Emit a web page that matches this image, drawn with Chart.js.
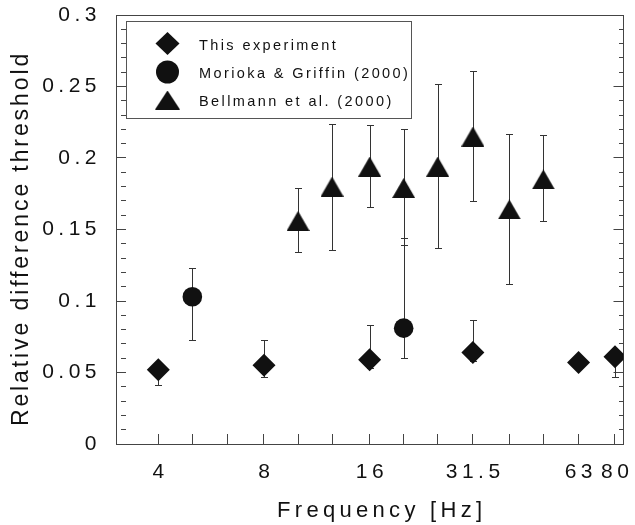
<!DOCTYPE html>
<html>
<head>
<meta charset="utf-8">
<script src="https://cdn.jsdelivr.net/npm/chart.js@4.4.1/dist/chart.umd.min.js"></script>
<style>
  html, body { margin: 0; padding: 0; background: #fff; }
</style>
</head>
<body>
<canvas id="chart" width="635" height="525"></canvas>
<script>
// --- Daten ---
var expFreq  = [4, 8, 16, 31.5, 63, 80];
var expValue = [0.052, 0.055, 0.059, 0.064, 0.057, 0.061];
var expLow   = [0.041, 0.047, 0.053, 0.058, null, 0.047];
var expHigh  = [0.057, 0.073, 0.083, 0.087, null, 0.064];

var morFreq  = [5, 20];
var morValue = [0.103, 0.081];
var morLow   = [0.073, 0.060];
var morHigh  = [0.123, 0.144];

var belFreq  = [10, 12.5, 16, 20, 25, 31.5, 40, 50];
var belValue = [0.156, 0.180, 0.194, 0.179, 0.194, 0.215, 0.164, 0.185];
var belLow   = [0.134, 0.136, 0.166, 0.139, 0.137, 0.170, 0.112, 0.156];
var belHigh  = [0.179, 0.224, 0.223, 0.220, 0.252, 0.261, 0.217, 0.216];

var seriesNames = ['This experiment', 'Morioka & Griffin (2000)', 'Bellmann et al. (2000)'];

// Terzband-Ticks der Frequenzachse, beschriftet nur ein Teil
var xTicks = [4, 5, 6.3, 8, 10, 12.5, 16, 20, 25, 31.5, 40, 50, 63, 80];
var xTickLabels = ['4', '', '', '8', '', '', '16', '', '', '31.5', '', '', '63', '80'];
var yTickLabels = ['0', '0.05', '0.1', '0.15', '0.2', '0.25', '0.3'];

var FONT = "'Liberation Sans', Arial, sans-serif";
var INK = '#111';
var AXIS = '#444';

function pts(xs, ys) { return xs.map(function (x, i) { return { x: x, y: ys[i] }; }); }

// feste Achsenmaße, ohne Zusatzabstände für überstehende Beschriftungen
function fixBox(w, h) {
  return function (s) {
    if (w != null) s.width = w;
    if (h != null) s.height = h;
    s.paddingLeft = s.paddingRight = s.paddingTop = s.paddingBottom = 0;
  };
}

// Dreieck mit zentrierter Bounding-Box (wie im Original)
function triangleImage(w, h) {
  var c = document.createElement('canvas');
  c.width = w; c.height = h;
  var g = c.getContext('2d');
  g.fillStyle = INK;
  g.beginPath(); g.moveTo(w / 2, 0); g.lineTo(w, h); g.lineTo(0, h); g.closePath(); g.fill();
  return c;
}
var triPlot = triangleImage(23, 20);
var triLegend = triangleImage(25, 19);

var errSets = [
  { freq: expFreq, low: expLow, high: expHigh },
  { freq: morFreq, low: morLow, high: morHigh },
  { freq: belFreq, low: belLow, high: belHigh }
];

// Fehlerbalken über die Skalen der Bibliothek
var errorBars = {
  id: 'errorBars',
  beforeDatasetsDraw: function (chart) {
    var ctx = chart.ctx, xs = chart.scales.x, ys = chart.scales.y;
    ctx.save();
    ctx.strokeStyle = '#333'; ctx.lineWidth = 1;
    errSets.forEach(function (s) {
      s.freq.forEach(function (f, i) {
        if (s.low[i] == null) return;
        var x = Math.round(xs.getPixelForValue(f)) + 0.5;
        var y1 = Math.round(ys.getPixelForValue(s.low[i])) + 0.5;
        var y2 = Math.round(ys.getPixelForValue(s.high[i])) + 0.5;
        ctx.beginPath();
        ctx.moveTo(x, y1); ctx.lineTo(x, y2);
        ctx.moveTo(x - 3.5, y1); ctx.lineTo(x + 3.5, y1);
        ctx.moveTo(x - 3.5, y2); ctx.lineTo(x + 3.5, y2);
        ctx.stroke();
      });
    });
    ctx.restore();
  }
};

// Legende im Plotbereich oben links
var boxLegend = {
  id: 'boxLegend',
  afterDraw: function (chart) {
    var ctx = chart.ctx;
    ctx.save();
    ctx.strokeStyle = '#555'; ctx.lineWidth = 1;
    ctx.strokeRect(126.5, 21.5, 285, 97);
    var rows = [43.5, 72, 100];
    ctx.fillStyle = INK;
    // Raute
    ctx.beginPath();
    ctx.moveTo(167.5, rows[0] - 11.5); ctx.lineTo(179.5, rows[0]); ctx.lineTo(167.5, rows[0] + 11.5); ctx.lineTo(155.5, rows[0]);
    ctx.closePath(); ctx.fill();
    // Kreis
    ctx.beginPath(); ctx.arc(167.5, rows[1], 11.5, 0, Math.PI * 2); ctx.fill();
    // Dreieck
    ctx.drawImage(triLegend, 167.5 - triLegend.width / 2, rows[2] - triLegend.height / 2);
    ctx.font = '14.5px ' + FONT;
    ctx.letterSpacing = '2.4px';
    ctx.textBaseline = 'alphabetic';
    ctx.textAlign = 'left';
    chart.data.datasets.forEach(function (ds, i) {
      ctx.fillText(ds.label, 199, rows[i] + 6);
    });
    ctx.restore();
  }
};

// Gesperrte Schrift wie im Original (Ticks und Achsentitel);
// dx gleicht den nachlaufenden Sperrabstand bei zentriertem Text aus
var TITLE_STYLE = {
  x: { spacing: '4.3px', dx: 12, dy: 0 },
  y: { spacing: '2.9px', dx: 0, dy: 9 }
};
var LABEL_SHIFT = { x: 2.25, y: 0 };
var spacedText = {
  id: 'spacedText',
  beforeDraw: function (chart) {
    chart.ctx.letterSpacing = '4.5px';
    Object.keys(chart.scales).forEach(function (id) {
      var s = chart.scales[id];
      if (s._spaced || !TITLE_STYLE[id]) return;
      var drawTitle = s.drawTitle, drawLabels = s.drawLabels;
      s.drawTitle = function () {
        var c = this.ctx, t = TITLE_STYLE[id];
        c.save();
        c.letterSpacing = t.spacing;
        c.translate(t.dx, t.dy);
        drawTitle.apply(this, arguments);
        c.restore();
      };
      s.drawLabels = function () {
        var c = this.ctx;
        c.save();
        c.translate(LABEL_SHIFT[id], 0);
        drawLabels.apply(this, arguments);
        c.restore();
      };
      s._spaced = true;
    });
  }
};

function minorDash(ctx) {
  var v = Math.round(ctx.tick.value * 100);
  return v % 5 === 0 ? [] : [5, 40];
}

var yTickValues = [];
for (var k = 0; k <= 30; k++) yTickValues.push(k / 100);

new Chart(document.getElementById('chart').getContext('2d'), {
  type: 'scatter',
  data: {
    datasets: [
      { label: seriesNames[0], data: pts(expFreq, expValue), pointStyle: 'rectRot', pointRadius: 11.5, pointHoverRadius: 11.5,
        backgroundColor: INK, borderColor: INK, borderWidth: 0 },
      { label: seriesNames[1], data: pts(morFreq, morValue), pointStyle: 'circle', pointRadius: 9.8, pointHoverRadius: 9.8,
        backgroundColor: INK, borderColor: INK, borderWidth: 0 },
      { label: seriesNames[2], data: pts(belFreq, belValue), pointStyle: triPlot,
        backgroundColor: INK, borderColor: INK, borderWidth: 0 }
    ]
  },
  options: {
    responsive: false, animation: false, events: [],
    layout: { padding: { left: 0, right: 10, top: 15, bottom: 0 } },
    plugins: { legend: { display: false }, tooltip: { enabled: false } },
    scales: {
      x: {
        type: 'logarithmic', position: 'bottom', min: 3.03, max: 84.6,
        afterBuildTicks: function (s) { s.ticks = xTicks.map(function (v) { return { value: v }; }); },
        afterFit: fixBox(null, 81),
        grid: { drawOnChartArea: false, tickLength: -10, color: AXIS, tickColor: AXIS },
        border: { display: true, color: AXIS, width: 1 },
        ticks: {
          autoSkip: false, maxRotation: 0, padding: 26, color: INK, font: { family: FONT, size: 21 },
          callback: function (v) { var i = xTicks.indexOf(v); return i < 0 ? '' : xTickLabels[i]; }
        },
        title: { display: true, text: 'Frequency [Hz]', color: INK, font: { family: FONT, size: 22 }, padding: { top: 0, bottom: 1 } }
      },
      x2: {
        type: 'logarithmic', position: 'top', min: 3.03, max: 84.6,
        afterFit: fixBox(null, 0),
        grid: { display: false }, ticks: { display: false },
        border: { display: true, color: AXIS, width: 1 }
      },
      y: {
        type: 'linear', position: 'left', min: 0, max: 0.3,
        afterBuildTicks: function (s) { s.ticks = yTickValues.map(function (v) { return { value: v }; }); },
        afterFit: fixBox(116, null),
        grid: { drawOnChartArea: false, tickLength: -10, color: AXIS, tickColor: AXIS, tickBorderDash: minorDash },
        border: { display: true, color: AXIS, width: 1 },
        ticks: {
          autoSkip: false, padding: 25, color: INK, font: { family: FONT, size: 21 },
          callback: function (v) { var r = Math.round(v * 100); return r % 5 === 0 ? yTickLabels[r / 5] : ''; }
        },
        title: { display: true, text: 'Relative difference threshold', color: INK, font: { family: FONT, size: 23 }, padding: { top: 8, bottom: 0 } }
      },
      y2: {
        type: 'linear', position: 'right', min: 0, max: 0.3, display: true,
        afterBuildTicks: function (s) { s.ticks = yTickValues.map(function (v) { return { value: v }; }); },
        afterFit: fixBox(0, null),
        grid: { drawOnChartArea: false, tickLength: -10, color: AXIS, tickColor: AXIS, tickBorderDash: minorDash },
        border: { display: true, color: AXIS, width: 1 },
        ticks: { display: false, autoSkip: false }
      }
    }
  },
  plugins: [spacedText, errorBars, boxLegend]
});
</script>
</body>
</html>
